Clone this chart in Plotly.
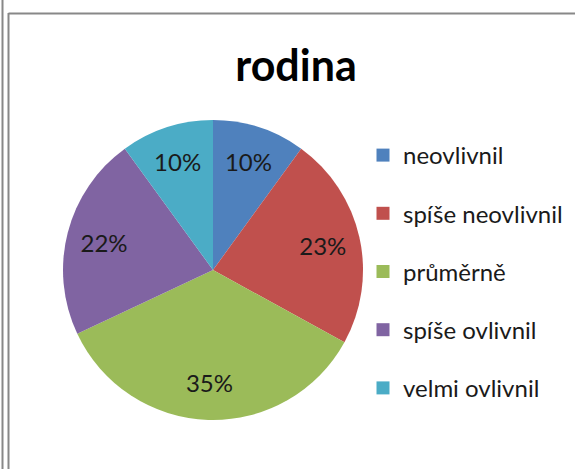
import plotly.graph_objects as go

labels = ["neovlivnil", "spíše neovlivnil", "průměrně", "spíše ovlivnil", "velmi ovlivnil"]
values = [10, 23, 35, 22, 10]
colors = ["#4F81BD", "#C0504D", "#9BBB59", "#8064A2", "#4BACC6"]

W, H = 575, 469
pie_domain = dict(x=[63 / W, 363 / W], y=[49 / H, 349 / H])

fig = go.Figure()

# the slices
fig.add_trace(go.Pie(
    labels=labels,
    values=values,
    sort=False,
    direction="clockwise",
    rotation=0,
    marker=dict(colors=colors, line=dict(width=0)),
    textinfo="none",
    domain=pie_domain,
    showlegend=False,
    hoverinfo="label+percent",
))

# same pie as a transparent ring, only to put the % labels out near the rim
fig.add_trace(go.Pie(
    labels=labels,
    values=values,
    sort=False,
    direction="clockwise",
    rotation=0,
    hole=0.5,
    marker=dict(colors=["rgba(0,0,0,0)"] * len(values), line=dict(width=0)),
    texttemplate="%{percent:.0%}",
    textposition="inside",
    insidetextorientation="horizontal",
    textfont=dict(family="Lato", size=24, color="#1a1a1a"),
    domain=pie_domain,
    showlegend=False,
    hoverinfo="skip",
))

# legend entries (spaced like the original)
for i, (lab, col) in enumerate(zip(labels, colors)):
    fig.add_trace(go.Scatter(
        x=[None], y=[None], mode="markers", name=lab,
        legendgroup=str(i),
        marker=dict(symbol="square", size=13, color=col),
    ))

fig.update_layout(
    width=W, height=H,
    margin=dict(l=0, r=0, t=0, b=0),
    paper_bgcolor="white",
    plot_bgcolor="white",
    title=dict(text="<b>rodina</b>", x=296 / W, xanchor="center",
               y=1 - 66 / H, yanchor="middle",
               font=dict(family="Lato", size=43, color="black")),
    xaxis=dict(visible=False),
    yaxis=dict(visible=False),
    legend=dict(x=363 / W, xanchor="left", y=1 - 133 / H, yanchor="top",
                font=dict(family="Lato", size=24, color="#1a1a1a"),
                tracegroupgap=24, itemclick=False, itemdoubleclick=False),
    shapes=[
        dict(type="line", xref="paper", yref="paper",
             x0=2.5 / W, x1=2.5 / W, y0=0, y1=1,
             line=dict(color="#888888", width=2)),
        dict(type="line", xref="paper", yref="paper",
             x0=8.5 / W, x1=8.5 / W, y0=0, y1=1 - 13 / H,
             line=dict(color="#888888", width=2)),
        dict(type="line", xref="paper", yref="paper",
             x0=8.5 / W, x1=1, y0=1 - 13.5 / H, y1=1 - 13.5 / H,
             line=dict(color="#888888", width=2)),
    ],
)

fig.write_html("out.html", config={"displayModeBar": False},
               post_script="document.body.style.margin='0';")
